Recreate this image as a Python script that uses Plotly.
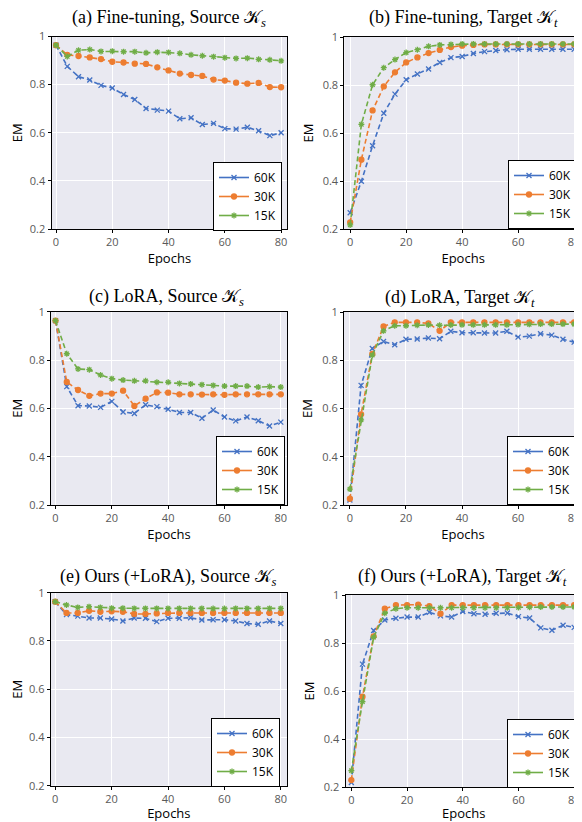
import plotly.graph_objects as go

epochs = list(range(0, 81, 4))
series_names = ["60K", "30K", "15K"]

# (a) Fine-tuning, Source
a_60k = [0.964, 0.876, 0.833, 0.819, 0.797, 0.786, 0.759, 0.738, 0.701, 0.694, 0.690, 0.658, 0.662, 0.634, 0.639, 0.617, 0.615, 0.623, 0.608, 0.588, 0.600]
a_30k = [0.964, 0.924, 0.919, 0.913, 0.906, 0.895, 0.892, 0.887, 0.886, 0.872, 0.859, 0.846, 0.840, 0.836, 0.821, 0.817, 0.808, 0.804, 0.807, 0.790, 0.789]
a_15k = [0.964, 0.917, 0.943, 0.946, 0.938, 0.939, 0.937, 0.937, 0.932, 0.935, 0.934, 0.930, 0.924, 0.920, 0.916, 0.912, 0.909, 0.910, 0.905, 0.903, 0.899]
# (b) Fine-tuning, Target
b_60k = [0.268, 0.399, 0.547, 0.682, 0.762, 0.822, 0.846, 0.867, 0.894, 0.914, 0.919, 0.931, 0.939, 0.944, 0.947, 0.949, 0.949, 0.949, 0.949, 0.949, 0.949]
b_30k = [0.228, 0.489, 0.694, 0.794, 0.853, 0.894, 0.915, 0.933, 0.946, 0.958, 0.964, 0.967, 0.969, 0.969, 0.969, 0.969, 0.969, 0.969, 0.969, 0.969, 0.969]
b_15k = [0.217, 0.636, 0.801, 0.872, 0.906, 0.935, 0.947, 0.961, 0.967, 0.969, 0.971, 0.971, 0.971, 0.971, 0.971, 0.971, 0.971, 0.971, 0.971, 0.971, 0.971]
# (c) LoRA, Source
c_60k = [0.963, 0.690, 0.611, 0.610, 0.604, 0.629, 0.585, 0.579, 0.615, 0.607, 0.596, 0.583, 0.583, 0.559, 0.593, 0.564, 0.548, 0.564, 0.549, 0.527, 0.543]
c_30k = [0.963, 0.709, 0.676, 0.652, 0.661, 0.661, 0.673, 0.610, 0.640, 0.666, 0.665, 0.658, 0.658, 0.657, 0.658, 0.656, 0.658, 0.658, 0.658, 0.658, 0.658]
c_15k = [0.963, 0.826, 0.763, 0.760, 0.738, 0.723, 0.717, 0.714, 0.714, 0.708, 0.708, 0.703, 0.701, 0.698, 0.695, 0.692, 0.692, 0.692, 0.688, 0.690, 0.688]
# (d) LoRA, Target
d_60k = [0.221, 0.696, 0.849, 0.878, 0.864, 0.887, 0.888, 0.892, 0.889, 0.920, 0.914, 0.914, 0.913, 0.913, 0.920, 0.896, 0.900, 0.910, 0.904, 0.887, 0.875]
d_30k = [0.226, 0.576, 0.826, 0.940, 0.957, 0.957, 0.957, 0.953, 0.922, 0.957, 0.957, 0.957, 0.957, 0.957, 0.957, 0.957, 0.957, 0.957, 0.957, 0.957, 0.957]
d_15k = [0.266, 0.553, 0.821, 0.922, 0.943, 0.943, 0.945, 0.946, 0.945, 0.946, 0.947, 0.947, 0.947, 0.947, 0.947, 0.948, 0.949, 0.950, 0.950, 0.950, 0.950]
# (e) Ours (+LoRA), Source
e_60k = [0.963, 0.909, 0.903, 0.895, 0.895, 0.891, 0.883, 0.895, 0.894, 0.880, 0.894, 0.894, 0.896, 0.887, 0.888, 0.888, 0.883, 0.872, 0.869, 0.883, 0.872]
e_30k = [0.963, 0.916, 0.916, 0.925, 0.921, 0.923, 0.921, 0.912, 0.912, 0.914, 0.916, 0.916, 0.916, 0.916, 0.916, 0.916, 0.916, 0.916, 0.916, 0.916, 0.916]
e_15k = [0.963, 0.949, 0.939, 0.942, 0.939, 0.936, 0.936, 0.935, 0.935, 0.935, 0.935, 0.935, 0.935, 0.935, 0.934, 0.934, 0.935, 0.935, 0.935, 0.935, 0.935]
# (f) Ours (+LoRA), Target
f_60k = [0.219, 0.712, 0.852, 0.896, 0.903, 0.908, 0.908, 0.928, 0.913, 0.908, 0.931, 0.922, 0.920, 0.924, 0.925, 0.910, 0.904, 0.863, 0.853, 0.874, 0.865]
f_30k = [0.229, 0.576, 0.828, 0.943, 0.958, 0.958, 0.960, 0.954, 0.922, 0.958, 0.958, 0.958, 0.958, 0.958, 0.958, 0.958, 0.958, 0.958, 0.958, 0.958, 0.958]
f_15k = [0.268, 0.556, 0.824, 0.924, 0.943, 0.947, 0.947, 0.947, 0.947, 0.947, 0.947, 0.947, 0.947, 0.947, 0.947, 0.948, 0.949, 0.950, 0.950, 0.950, 0.950]

titles = [
    "(a) Fine-tuning, Source 𝒦<sub><i>s</i></sub>",
    "(b) Fine-tuning, Target 𝒦<sub><i>t</i></sub>",
    "(c) LoRA, Source 𝒦<sub><i>s</i></sub>",
    "(d) LoRA, Target 𝒦<sub><i>t</i></sub>",
    "(e) Ours (+LoRA), Source 𝒦<sub><i>s</i></sub>",
    "(f) Ours (+LoRA), Target 𝒦<sub><i>t</i></sub>",
]
panels = [
    (a_60k, a_30k, a_15k), (b_60k, b_30k, b_15k),
    (c_60k, c_30k, c_15k), (d_60k, d_30k, d_15k),
    (e_60k, e_30k, e_15k), (f_60k, f_30k, f_15k),
]

# the page body has an 8px margin, so the figure is 8px smaller and all
# page-pixel positions are shifted by OFF
OFF = 8
W, H = 582 - OFF, 822 - OFF
colors = ["#4472C4", "#ED7D31", "#70AD47"]
symbols = ["x-thin-open", "circle", "asterisk-open"]

# pixel geometry (page coords) of each panel: (left, right, top, bottom)
geo = [
    (51.5, 287.3, 36.5, 229.0), (344.3, 582.0, 37.0, 229.0),
    (51.0, 287.0, 311.7, 505.0), (344.0, 582.0, 312.0, 505.0),
    (50.7, 287.0, 592.7, 785.7), (345.5, 582.0, 595.0, 787.0),
]
xranges = [[-1.6, 82.2], [-2.1, 82.8]] * 3
# legend box: (right edge, top edge) in page pixels
legend_geo = [(282, 162), (577, 160), (285, 436), (576, 436), (280, 718), (576, 719)]
title_pos = [(169, 19), (463, 19), (166, 297), (460, 298), (168, 577), (462, 577)]


def px(x):
    return (x - OFF) / W


def py(y):
    return 1 - (y - OFF) / H


fig = go.Figure()
layout = dict(
    width=W, height=H, margin=dict(l=0, r=0, t=0, b=0, autoexpand=False),
    paper_bgcolor="white", plot_bgcolor="#E9E9F1", showlegend=True,
    font=dict(family="Open Sans, Lato, sans-serif", color="#000000"),
)
annotations = []
for i, (vals, title) in enumerate(zip(panels, titles)):
    ax = "" if i == 0 else str(i + 1)
    xname, yname = "x" + ax, "y" + ax
    lname = "legend" + ("" if i == 0 else str(i + 1))
    for k in range(3):
        marker = dict(symbol=symbols[k], color=colors[k], size=5,
                      line=dict(color=colors[k], width=1.3))
        fig.add_trace(go.Scatter(
            x=epochs, y=vals[k], mode="lines+markers", name=series_names[k],
            line=dict(color=colors[k], width=1.6, dash="5px,3px"),
            marker=marker, xaxis=xname, yaxis=yname, legend=lname, showlegend=False,
        ))
        fig.add_trace(go.Scatter(
            x=[None], y=[None], mode="lines+markers", name=series_names[k],
            line=dict(color=colors[k], width=1.6), marker=marker,
            xaxis=xname, yaxis=yname, legend=lname, showlegend=True,
        ))
    l, r, t, b = geo[i]
    layout["xaxis" + ax] = dict(
        domain=[px(l), min(px(r), 1.0)], range=xranges[i], anchor=yname, automargin=False,
        tickvals=[0, 20, 40, 60, 80], showgrid=True, gridcolor="white", gridwidth=1,
        zeroline=False, showline=True, linecolor="black", linewidth=1, mirror=True,
        ticks="outside", ticklen=3, tickcolor="black",
        tickfont=dict(size=11, color="#595959"),
        title=dict(text="Epochs", font=dict(size=13, color="#000000"), standoff=3),
    )
    layout["yaxis" + ax] = dict(
        domain=[py(b), py(t)], range=[0.2, 1.0], anchor=xname, automargin=False,
        tickvals=[0.2, 0.4, 0.6, 0.8, 1.0], ticktext=["0.2", "0.4", "0.6", "0.8", "1"],
        showgrid=True, gridcolor="white", gridwidth=1,
        zeroline=False, showline=True, linecolor="black", linewidth=1, mirror=True,
        ticks="outside", ticklen=3, tickcolor="black",
        tickfont=dict(size=11, color="#595959"),
        title=dict(text="EM", font=dict(size=13, color="#000000"), standoff=6),
    )
    lx, ly = legend_geo[i]
    layout[lname] = dict(
        x=px(lx), y=py(ly), xanchor="right", yanchor="top",
        bgcolor="white", bordercolor="black", borderwidth=1,
        font=dict(size=12, color="#000000"), itemwidth=30,
        tracegroupgap=0, traceorder="normal",
    )
    tx, ty = title_pos[i]
    annotations.append(dict(
        text=title, x=px(tx), y=py(ty), xref="paper", yref="paper",
        xanchor="center", yanchor="middle", showarrow=False,
        font=dict(family="Times New Roman, Liberation Serif, DejaVu Serif, serif", size=18, color="#000000"),
    ))
layout["annotations"] = annotations
fig.update_layout(**layout)
fig.write_html("out.html")
